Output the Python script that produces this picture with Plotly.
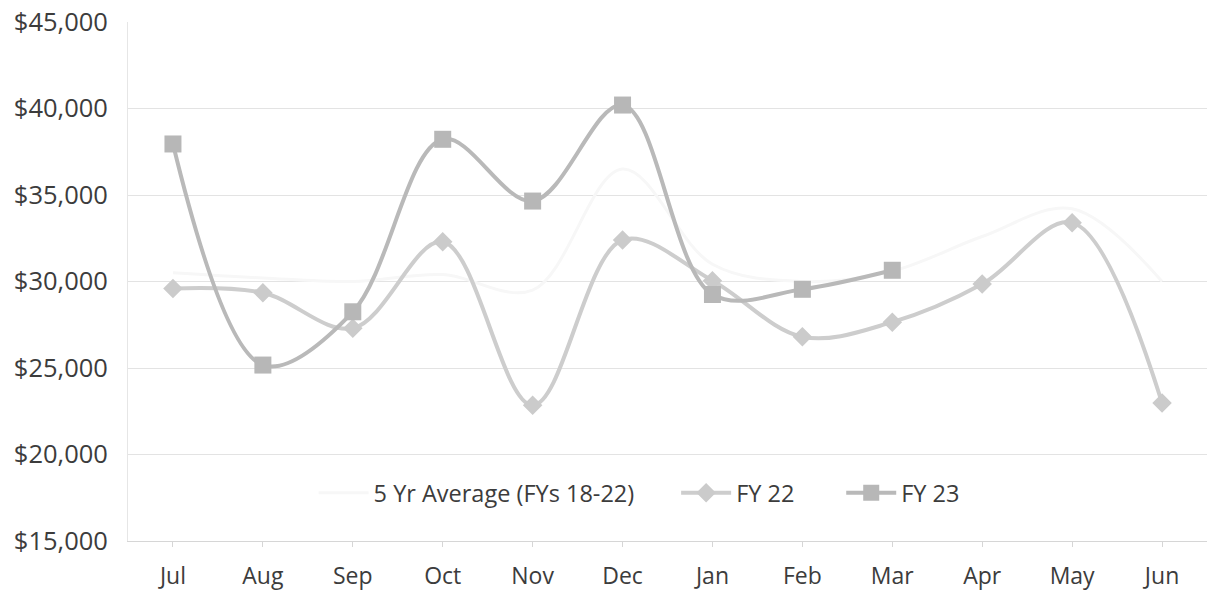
import plotly.graph_objects as go

months = ["Jul", "Aug", "Sep", "Oct", "Nov", "Dec", "Jan", "Feb", "Mar", "Apr", "May", "Jun"]
avg_5yr = [30500, 30200, 30000, 30400, 29500, 36500, 31000, 30000, 30600, 32600, 34200, 30000]
fy22 = [29600, 29350, 27300, 32300, 22850, 32400, 30050, 26800, 27650, 29850, 33400, 22980]
fy23 = [37950, 25170, 28250, 38220, 34650, 40200, 29250, 29550, 30650]
y_ticks = [15000, 20000, 25000, 30000, 35000, 40000, 45000]
y_labels = ["$15,000", "$20,000", "$25,000", "$30,000", "$35,000", "$40,000", "$45,000"]

FONT = "'Open Sans', Lato, sans-serif"
TXT = "#3c3c3c"

fig = go.Figure()
fig.add_trace(go.Scatter(
    x=months, y=avg_5yr, name="5 Yr Average (FYs 18-22)", mode="lines",
    line=dict(color="#f7f7f7", width=3, shape="spline", smoothing=1.0),
    legend="legend",
))
fig.add_trace(go.Scatter(
    x=months, y=fy22, name="FY 22", mode="lines+markers",
    line=dict(color="#cdcdcd", width=4, shape="spline", smoothing=1.0),
    marker=dict(symbol="diamond", size=15, color="#cbcbcb"),
    legend="legend2",
))
fig.add_trace(go.Scatter(
    x=months[:len(fy23)], y=fy23, name="FY 23", mode="lines+markers",
    line=dict(color="#b9b9b9", width=4, shape="spline", smoothing=1.0),
    marker=dict(symbol="square", size=17, color="#b7b7b7"),
    legend="legend3",
))

leg_common = dict(orientation="h", y=0.0925, yanchor="middle", xanchor="left",
                  font=dict(size=23.5, color=TXT), bgcolor="rgba(0,0,0,0)",
                  itemwidth=50)

fig.update_layout(
    width=1207, height=593,
    margin=dict(l=128, r=0, t=22, b=52),
    paper_bgcolor="white", plot_bgcolor="white",
    font=dict(family=FONT, size=23, color=TXT),
    showlegend=True,
    legend=dict(x=0.172, **leg_common),
    legend2=dict(x=0.508, **leg_common),
    legend3=dict(x=0.661, **leg_common),
    xaxis=dict(
        type="category", categoryorder="array", categoryarray=months,
        range=[-0.5, 11.5], showgrid=False, zeroline=False,
        showline=True, linecolor="#d6d6d6", linewidth=1,
        ticks="outside", ticklen=5, tickcolor="#d6d6d6",
        ticklabelstandoff=9, fixedrange=True, automargin=False,
    ),
    yaxis=dict(
        range=[15000, 45000], tickvals=y_ticks, ticktext=y_labels,
        showgrid=True, gridcolor="#e3e3e3", gridwidth=1, zeroline=False,
        showline=True, linecolor="#e6e6e6", linewidth=1,
        ticks="", ticklabelstandoff=14, fixedrange=True, automargin=False,
        tickfont=dict(size=25.5),
    ),
)

fig.write_html("out.html", config={"displayModeBar": False},
               post_script="document.body.style.margin='0';document.body.style.overflow='hidden';")
